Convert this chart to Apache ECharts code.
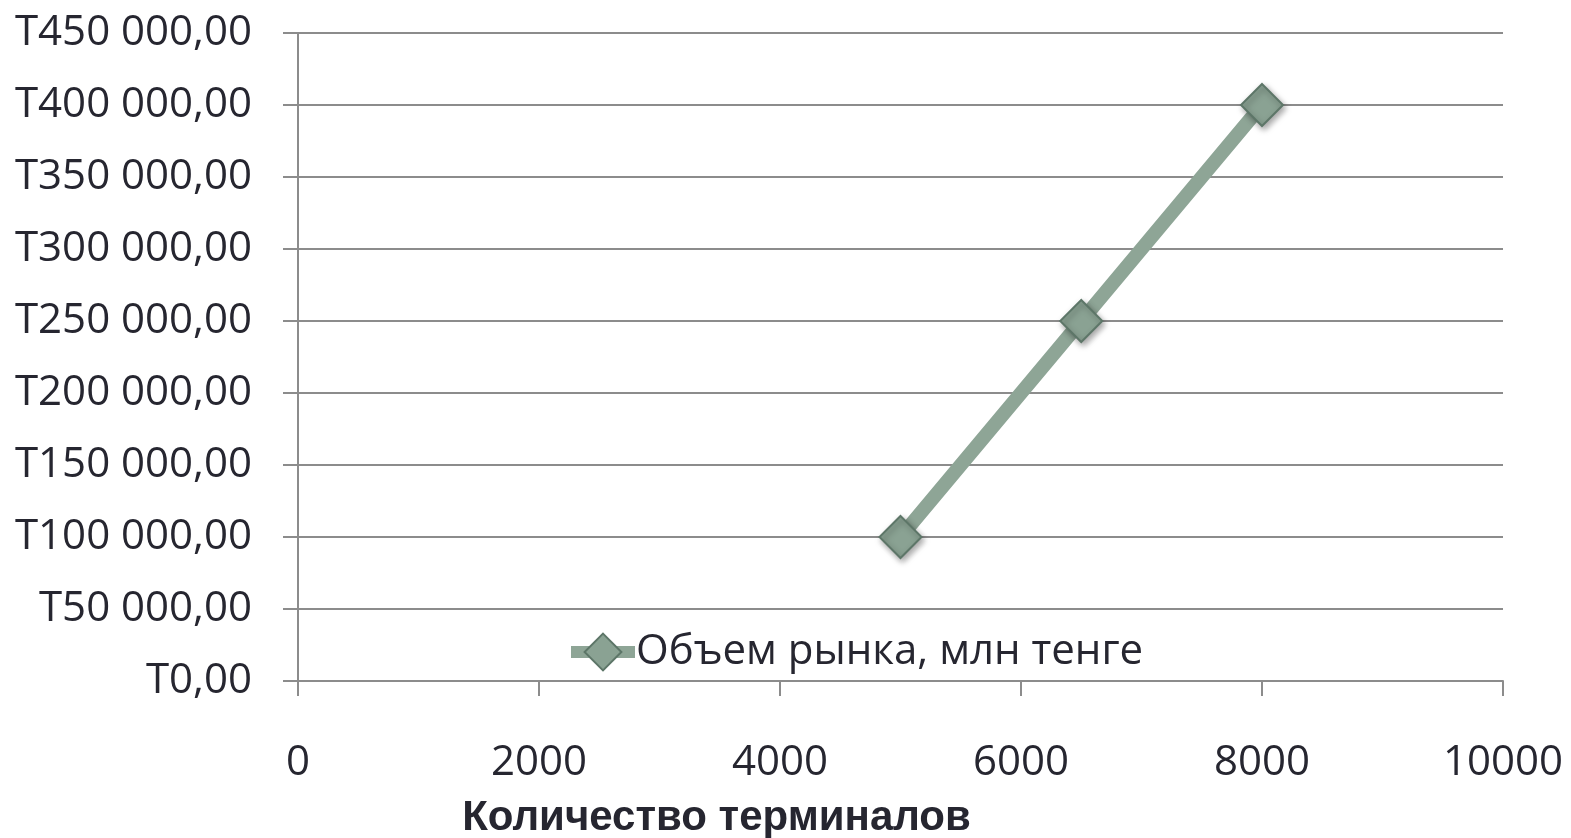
<!DOCTYPE html>
<html><head><meta charset="utf-8">
<script src="https://cdn.jsdelivr.net/npm/echarts@6/dist/echarts.min.js"></script>
<style>html,body{margin:0;padding:0;background:#fff}#c{width:1571px;height:838px}</style>
</head><body><div id="c"></div>
<script>
const xValues = [5000, 6500, 8000];
const yValues = [100000, 250000, 400000];
const seriesName = 'Объем рынка, млн тенге';
const xAxisName = 'Количество терминалов';

function fmtY(v){
  const s = Math.round(v).toString().replace(/\B(?=(\d{3})+(?!\d))/g, ' ');
  return 'T' + s + ',00';
}

const chart = echarts.init(document.getElementById('c'));
chart.setOption({
  animation: false,
  grid: {left: 298, right: 68, top: 33, bottom: 157, containLabel: false, outerBoundsMode: 'none'},
  legend: {
    data: [seriesName],
    left: 560, top: 626,
    itemWidth: 64, itemHeight: 46, itemGap: 2,
    lineStyle: {width: 12, color: '#8ea596'},
    textStyle: {fontFamily: 'Open Sans', fontSize: 42, color: '#262630', padding: [0, 0, 0, -4]}
  },
  xAxis: {
    type: 'value', min: 0, max: 10000, interval: 2000,
    name: xAxisName, nameLocation: 'middle', nameGap: 116,
    nameTextStyle: {fontFamily: 'Liberation Sans', fontWeight: 'bold', fontSize: 42, color: '#262630', padding: [0, 368, 0, 0]},
    axisLine: {show: true, lineStyle: {color: '#8c8c8c', width: 2}},
    axisTick: {show: true, length: 15, lineStyle: {color: '#8c8c8c', width: 2}},
    axisLabel: {fontFamily: 'Open Sans', fontSize: 42, color: '#262630', margin: 61, formatter: v => String(v)},
    splitLine: {show: false}
  },
  yAxis: {
    type: 'value', min: 0, max: 450000, interval: 50000,
    axisLine: {show: true, lineStyle: {color: '#8c8c8c', width: 2}},
    axisTick: {show: true, length: 15, lineStyle: {color: '#8c8c8c', width: 2}},
    axisLabel: {fontFamily: 'Open Sans', fontSize: 42, color: '#262630', margin: 46, formatter: fmtY},
    splitLine: {show: true, lineStyle: {color: '#8c8c8c', width: 2}}
  },
  series: [{
    name: seriesName,
    type: 'line',
    data: xValues.map((x, i) => [x, yValues[i]]),
    symbol: 'diamond', symbolSize: 42,
    lineStyle: {color: '#8ea596', width: 14},
    itemStyle: {color: '#8aa293', borderColor: '#5d7668', borderWidth: 2,
      shadowColor: 'rgba(0,0,0,0.35)', shadowBlur: 6, shadowOffsetX: 2, shadowOffsetY: 3},
    z: 3
  }]
});
</script></body></html>
